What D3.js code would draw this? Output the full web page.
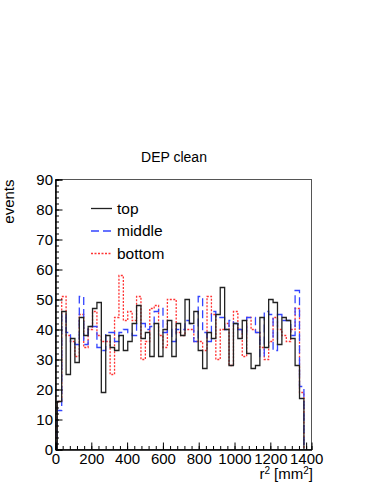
<!DOCTYPE html>
<html>

<head>
    <meta charset="utf-8">
    <title>DEP clean</title>
    <script src="https://cdn.jsdelivr.net/npm/d3@7"></script>
    <style>
        body { margin: 0; background: #fff; }
        text { font-family: "Liberation Sans", Arial, sans-serif; fill: #000; }
        .hist { fill: none; stroke-width: 1.3; }
    </style>
</head>

<body>
</body>
<script>
    // bin layout (in r^2 units): first edge, width
    var binStart = 10, binWidth = 24.6;

    var topVals = [16, 46, 25, 37, 29, 44, 38, 41, 47, 49, 19, 38, 34, 33, 38, 33, 36, 42, 48, 37, 39, 31, 42, 31, 40, 43, 31, 42,
        38, 50, 42, 46, 33, 27, 39, 37, 45, 54, 40, 28, 42, 37, 43, 32, 27, 28, 44, 34, 50, 49, 35, 44, 43, 37, 28, 17];
    var middleVals = [13, 45, 39, 36, 35, 51, 35, 41, 41, 34, 33, 39, 39, 36, 39, 40, 39, 38, 42, 42, 40, 41, 46, 47, 39, 40, 36, 40,
        40, 43, 42, 36, 51, 39, 36, 46, 44, 44, 40, 43, 42, 40, 39, 44, 44, 39, 31, 46, 45, 33, 45, 43, 43, 38, 53, 21];
    var bottomVals = [16, 51, 38, 36, 31, 45, 34, 40, 46, 38, 36, 36, 25, 44, 58, 43, 46, 43, 51, 30, 36, 47, 48, 38, 34, 50, 50, 39,
        38, 40, 40, 36, 36, 33, 51, 45, 30, 40, 42, 28, 46, 40, 31, 44, 40, 39, 34, 30, 36, 44, 40, 38, 36, 40, 47, 19];

    var series = [
        { name: 'top', values: topVals, color: '#222', dash: null },
        { name: 'middle', values: middleVals, color: '#3344ff', dash: '8,4' },
        { name: 'bottom', values: bottomVals, color: '#ff3333', dash: '2,1.5' }
    ];

    var yTicks = d3.range(0, 91, 10);
    var xTicks = d3.range(0, 1401, 200);

    var width = 374, height = 484;
    var svg = d3.select('body').append('svg').attr('width', width).attr('height', height);

    var x = d3.scaleLinear().domain([0, 1430]).range([55.5, 311.5]);
    var y = d3.scaleLinear().domain([0, 90]).range([449.5, 179.5]);

    // frame
    svg.append('rect').attr('x', x(0)).attr('y', y(90)).attr('width', x(1430) - x(0)).attr('height', y(0) - y(90))
        .attr('fill', 'none').attr('stroke', '#555').attr('stroke-width', 1);

    // histograms
    var stepPath = function (vals) {
        var pts = [[x(binStart), y(0)]];
        vals.forEach(function (v, i) {
            pts.push([x(binStart + i * binWidth), y(v)]);
            pts.push([x(binStart + (i + 1) * binWidth), y(v)]);
        });
        pts.push([x(binStart + vals.length * binWidth), y(0)]);
        return d3.line()(pts);
    };

    svg.selectAll('.hist').data(series.slice().reverse()).enter().append('path')
        .attr('class', 'hist')
        .attr('d', d => stepPath(d.values))
        .attr('stroke', d => d.color)
        .attr('stroke-dasharray', d => d.dash);

    // axes
    var yAxis = d3.axisLeft(y).tickValues(yTicks).tickSize(-7).tickPadding(2.5).tickFormat(d3.format('d'));
    var yMinor = d3.axisLeft(y).tickValues(d3.range(0, 91, 2)).tickSize(-3.5).tickFormat('');
    var xAxis = d3.axisBottom(x).tickValues(xTicks).tickSize(-7).tickPadding(3.5).tickFormat(d3.format('d'));
    var xMinor = d3.axisBottom(x).tickValues(d3.range(0, 1430, 40)).tickSize(-3.5).tickFormat('');

    [[yMinor, 'y'], [yAxis, 'y'], [xMinor, 'x'], [xAxis, 'x']].forEach(function (a) {
        var g = svg.append('g')
            .attr('transform', a[1] === 'y' ? 'translate(' + x(0) + ',0)' : 'translate(0,' + y(0) + ')')
            .call(a[0]);
        g.select('.domain').attr('stroke', '#000');
        g.selectAll('.tick line').attr('stroke', '#000');
        g.selectAll('text').style('font-size', '15px').attr('fill', '#000')
            .style('font-family', '"Liberation Sans", Arial, sans-serif');
    });

    // title and axis titles
    svg.append('text').attr('x', 174).attr('y', 162).attr('text-anchor', 'middle').style('font-size', '14px').text('DEP clean');

    svg.append('text').attr('transform', 'translate(14,' + y(90) + ') rotate(-90)').attr('text-anchor', 'end')
        .style('font-size', '15px').text('events');

    var xt = svg.append('text').attr('x', 313).attr('y', 479).attr('text-anchor', 'end').style('font-size', '15px');
    xt.append('tspan').text('r');
    xt.append('tspan').attr('dy', -5).style('font-size', '10px').text('2');
    xt.append('tspan').attr('dy', 5).text(' [mm');
    xt.append('tspan').attr('dy', -5).style('font-size', '10px').text('2');
    xt.append('tspan').attr('dy', 5).text(']');

    // legend
    var leg = svg.selectAll('.leg').data(series).enter().append('g').attr('class', 'leg')
        .attr('transform', (d, i) => 'translate(91,' + (208.5 + i * 22.5) + ')');
    leg.append('line').attr('x1', 0).attr('x2', 21).attr('stroke', d => d.color).attr('stroke-width', 1.3)
        .attr('stroke-dasharray', d => d.dash);
    leg.append('text').attr('x', 26).attr('dy', '0.33em').style('font-size', '15.5px').text(d => d.name);
</script>

</html>
